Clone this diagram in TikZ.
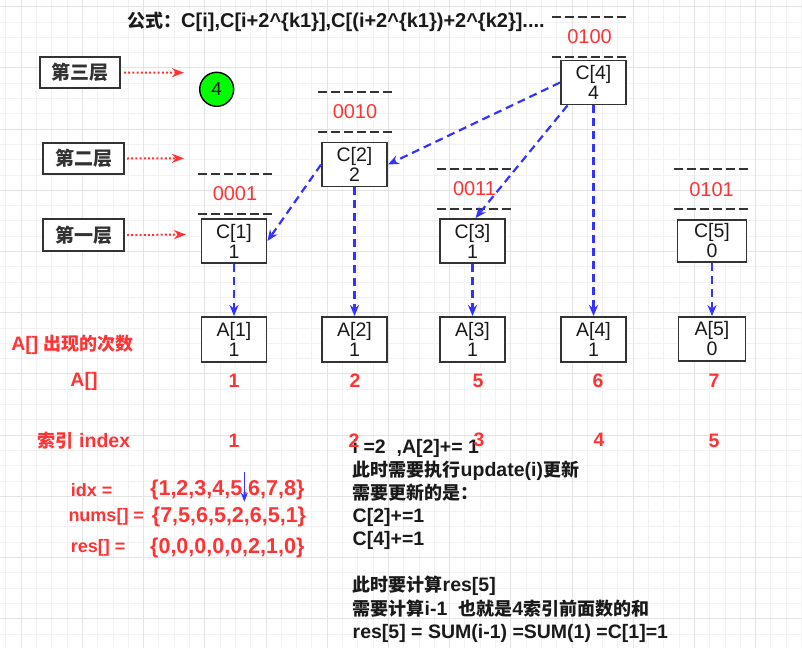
\documentclass[tikz,border=0pt]{standalone}
\usepackage{fontspec}
\setmainfont{Liberation Sans}
\newfontfamily\cjkfont{Noto Sans CJK SC}
\usetikzlibrary{arrows.meta}
\definecolor{ink}{HTML}{333333}
\definecolor{txt}{HTML}{1A1A1A}
\definecolor{rd}{HTML}{FF3333}
\definecolor{bl}{HTML}{3333FF}
\definecolor{gmin}{HTML}{F2F2F2}
\definecolor{gmaj}{HTML}{E4E4E4}
\definecolor{grn}{HTML}{00FF00}
\newcommand\zh[1]{{\cjkfont\bfseries\fontsize{18}{23.1}\selectfont #1}}
\tikzset{
  lbox/.style={draw=ink, line width=2pt, fill=white, minimum width=80, minimum height=31, inner sep=0pt, text=ink, font=\cjkfont\bfseries\fontsize{19}{23}\selectfont},
  cbox/.style={draw=ink, line width=1.9pt, fill=white, minimum width=65, minimum height=44, inner sep=0pt, align=center, text=txt, font=\fontsize{19.5}{20}\selectfont},
  binlbl/.style={minimum width=74, minimum height=39.5, inner sep=0pt, text=rd, font=\fontsize{20}{24}\selectfont},
  dashline/.style={draw=ink, line width=2pt, dash pattern=on 9pt off 4pt},
  bluearrow/.style={draw=bl, line width=2.2pt, dash pattern=on 8pt off 5pt, -{Stealth[length=11pt,width=9pt]}},
  redarrow/.style={draw=rd, line width=2pt, dash pattern=on 2pt off 2.2pt, -{Stealth[length=12pt,width=9pt]}},
  rtxt/.style={text=rd, inner sep=0pt, font=\bfseries\fontsize{19.5}{23}\selectfont},
  gridmin/.style={draw=gmin, line width=0.8pt},
  gridmaj/.style={draw=gmaj, line width=0.8pt}
}
\begin{document}
\begin{tikzpicture}[x=1pt,y=-1pt]
\useasboundingbox (0,0) rectangle (802,648);
\fill[white] (0,0) rectangle (802,648);
% grid
\foreach \k in {0,...,52} \draw[gridmin] ({5.8+\k*15.3},0) -- ({5.8+\k*15.3},648);
\foreach \k in {0,...,41} \draw[gridmin] (0,{6.6+\k*15.3}) -- (802,{6.6+\k*15.3});
\foreach \k in {0,...,12} \draw[gridmaj] ({21.1+\k*61.2},0) -- ({21.1+\k*61.2},648);
\foreach \k in {0,...,10} \draw[gridmaj] (0,{6.6+\k*61.2}) -- (802,{6.6+\k*61.2});

% title
\node[anchor=west, inner sep=0pt, text=txt, font=\bfseries\fontsize{20}{23}\selectfont] (title) at (127,22)
  {\zh{公式：}C[i],C[i+2\textasciicircum\{k1\}],C[(i+2\textasciicircum\{k1\})+2\textasciicircum\{k2\}]....};

% layer labels
\node[lbox] (L3) at (80,72.5) {第三层};
\node[lbox, minimum width=81] (L2) at (83.5,158.5) {第二层};
\node[lbox, minimum width=81, minimum height=32] (L1) at (83.5,235) {第一层};
\coordinate (T3) at (184,72.7);
\coordinate (T2) at (184,158.3);
\coordinate (T1) at (186,234.5);
\draw[redarrow] ([xshift=3pt]L3.east) -- (T3);
\draw[redarrow] ([xshift=2pt]L2.east) -- (T2);
\draw[redarrow] ([xshift=2pt]L1.east) -- (T1);

% green circle
\node[circle, draw=black, line width=1.4pt, fill=grn, minimum size=34, inner sep=0pt, text=txt, font=\fontsize{19}{20}\selectfont] (G4) at (216.7,89.3) {4};

% C boxes
\node[cbox] (C1) at (234,241) {C[1]\\1};
\node[cbox] (C2) at (354.5,164.5) {C[2]\\2};
\node[cbox] (C3) at (472.5,241) {C[3]\\1};
\node[cbox] (C4) at (593.5,82.5) {C[4]\\4};
\node[cbox, minimum width=69, minimum height=42] (C5) at (712,241) {C[5]\\0};

% binary labels
\node[binlbl] (B1) at (235,193.9) {0001};
\node[binlbl] (B2) at (355,111.9) {0010};
\node[binlbl] (B3) at (474.5,188.8) {0011};
\node[binlbl] (B4) at (589.5,37) {0100};
\node[binlbl] (B5) at (711.5,189.2) {0101};
\foreach \b in {B1,B2,B3,B4,B5}{
  \draw[dashline] (\b.north west) -- (\b.north east);
  \draw[dashline] (\b.south west) -- (\b.south east);
}

% A boxes
\node[cbox, minimum height=45] (A1) at (234,339.5) {A[1]\\1};
\node[cbox, minimum height=45] (A2) at (354.5,339.5) {A[2]\\1};
\node[cbox, minimum height=45] (A3) at (472.5,339.5) {A[3]\\1};
\node[cbox, minimum height=45] (A4) at (593.5,339.5) {A[4]\\1};
\node[cbox, minimum width=67, minimum height=44] (A5) at (712,339) {A[5]\\0};

% blue connectors
\draw[bluearrow] (C4.west) -- (C2.east);
\draw[bluearrow] ([xshift=-26pt]C4.south) -- ([xshift=3pt]C3.north);
\draw[bluearrow] (C4.south) -- (A4.north);
\draw[bluearrow] (C2.west) -- (C1.east);
\draw[bluearrow] (C1.south) -- (A1.north);
\draw[bluearrow] (C2.south) -- (A2.north);
\draw[bluearrow] (C3.south) -- (A3.north);
\draw[bluearrow] (C5.south) -- (A5.north);

% red row labels
\node[rtxt] (lblA) at (72.5,345) {A[] \zh{出现的次数}};
\node[rtxt] (lblV) at (84,381) {A[]};
\node[rtxt] (lblI) at (84,441) {\zh{索引} index};

% black explanation text
\node[anchor=north west, inner sep=0pt, align=left, text=txt, font=\bfseries\fontsize{19.5}{23.1}\selectfont] (expl) at (352.5,439)
  {i =2~~,A[2]+=~1\\
   \zh{此时需要执行}update(i)\zh{更新}\\
   \zh{需要更新的是：}\\
   C[2]+=1\\
   C[4]+=1\\
   \mbox{}\\
   \zh{此时要计算}res[5]\\
   \zh{需要计算}i-1~~\zh{也就是}4\zh{索引前面数的和}\\
   res[5] = SUM(i-1) =SUM(1) =C[1]=1};

% values and indices
\node[rtxt] (V1) at (234,381) {1};
\node[rtxt] (V2) at (355,381) {2};
\node[rtxt] (V3) at (478,381) {5};
\node[rtxt] (V4) at (598,381) {6};
\node[rtxt] (V5) at (714,381) {7};
\node[rtxt] (I1) at (234,441) {1};
\node[rtxt] (I2) at (354,441) {2};
\node[rtxt] (I3) at (479,440) {3};
\node[rtxt] (I4) at (599,440) {4};
\node[rtxt] (I5) at (714,441) {5};

% arrays
\node[rtxt, anchor=west, font=\bfseries\fontsize{18}{23}\selectfont] (idxL) at (70.7,490) {idx =};
\node[rtxt, anchor=west, font=\bfseries\fontsize{18}{23}\selectfont] (numsL) at (68.3,516.7) {nums[] =};
\node[rtxt, anchor=west, font=\bfseries\fontsize{18}{23}\selectfont] (resL) at (70.7,548.3) {res[] =};
\node[rtxt, anchor=west, font=\bfseries\fontsize{21.5}{24}\selectfont] (idxV) at (150,490) {\{1,2,3,4,5,6,7,8\}};
\node[rtxt, anchor=west, font=\bfseries\fontsize{21.5}{24}\selectfont] (numsV) at (151.7,516.7) {\{7,5,6,5,2,6,5,1\}};
\node[rtxt, anchor=west, font=\bfseries\fontsize{21.5}{24}\selectfont] (resV) at (150,548.3) {\{0,0,0,0,0,2,1,0\}};

% small pointer
\coordinate (P1) at (244.3,471.7);
\coordinate (P2) at (244.3,501.7);
\draw[draw=bl, line width=1.6pt, -{Stealth[length=9pt,width=7pt]}] (P1) -- (P2);
\end{tikzpicture}
\end{document}
